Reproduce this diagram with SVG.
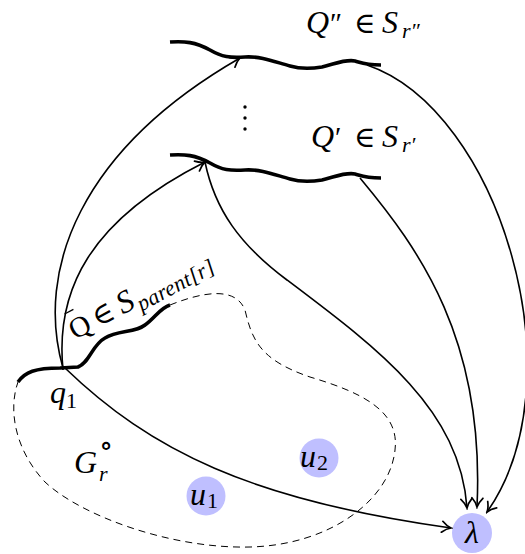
<svg xmlns="http://www.w3.org/2000/svg" width="525" height="554" viewBox="0 0 525 554">
<style>
.m{font-family:"Liberation Serif",serif;font-style:italic;font-size:32px;fill:#000}
.u{font-family:"Liberation Serif","DejaVu Serif",serif;font-size:29px;fill:#000}
.s{font-size:22px}
.thin{fill:none;stroke:#000;stroke-width:1.6}
.thick{fill:none;stroke:#000;stroke-width:3.6;stroke-linecap:butt}
.dash{fill:none;stroke:#000;stroke-width:1;stroke-dasharray:7 5}
.node{fill:#bfbfff}
</style>
<defs>
<marker id="arr" viewBox="-11 -7 13 14" refX="0" refY="0" markerWidth="13" markerHeight="14" markerUnits="userSpaceOnUse" orient="auto">
<path d="M-9,-5.5 C-5.5,-2.2 -2.2,-0.6 0,0 C-2.2,0.6 -5.5,2.2 -9,5.5" fill="none" stroke="#000" stroke-width="1.7" stroke-linecap="round"/>
</marker>
</defs>
<rect width="525" height="554" fill="#fff"/>

<g id="region">
<path class="dash" d="M170,305 C200,293 235,285 245,310 C252,340 260,360 310,377 C360,392 400,410 395,450 C390,500 330,545 250,547 C170,549 80,515 45,482 C15,450 8,410 18,382"/>
<text class="m" x="74" y="473">G</text>
<text class="u" x="99" y="455" font-size="18">∘</text>
<text class="m s" x="99" y="481">r</text>
</g>

<g id="Qbar">
<path class="thick" d="M18,382 C25,372 35,368 60,368 L78,367 C90,362 92,345 105,338 C118,330 135,333 145,325 C155,318 160,308 170,305"/>
<g transform="translate(75,340) rotate(-28)">
<text class="u" x="0" y="0" font-size="31">Q</text>
<rect x="3" y="-28.5" width="10" height="1.3" fill="#000"/>
<text class="u" x="26" y="0">∈</text>
<text class="m" x="54" y="0">S</text>
<text class="m s" x="72" y="6" textLength="85" lengthAdjust="spacing">parent[r]</text>
</g>
</g>

<g id="q1">
<text class="m" x="50" y="403">q</text>
<text class="u s" x="66" y="408">1</text>
</g>

<g id="Qpp">
<path class="thick" d="M170,42 C185,41 195,42 210,50 C222,57 230,58 245,57 C262,56 275,62 290,66 C300,69 310,69 322,67 C335,64 345,59 355,61 C362,63 365,65 381,65"/>
<text class="m" x="306" y="33">Q</text>
<text class="u" x="330" y="33">″</text>
<text class="u" x="354" y="33">∈</text>
<text class="m" x="382" y="33">S</text>
<text class="m s" x="402" y="38">r″</text>
</g>

<g id="dots">
<circle cx="245" cy="107" r="1.7"/>
<circle cx="245" cy="118" r="1.7"/>
<circle cx="245" cy="129" r="1.7"/>
</g>

<g id="Qp">
<path class="thick" d="M170,155 C185,154 195,155 210,163 C222,170 230,171 245,170 C262,169 275,175 290,179 C300,182 310,182 322,180 C335,177 345,172 355,174 C362,176 365,178 381,178"/>
<text class="m" x="311" y="147">Q</text>
<text class="u" x="335" y="147">′</text>
<text class="u" x="354" y="147">∈</text>
<text class="m" x="382" y="147">S</text>
<text class="m s" x="402" y="152">r′</text>
</g>

<g id="u1">
<circle class="node" cx="206" cy="496" r="19.5"/>
<text class="m" x="190" y="505">u</text>
<text class="u s" x="207" y="508">1</text>
</g>
<g id="u2">
<circle class="node" cx="319" cy="458" r="19.5"/>
<text class="m" x="300" y="467">u</text>
<text class="u s" x="317" y="470">2</text>
</g>
<g id="lambda">
<circle class="node" cx="472" cy="533" r="20"/>
<text class="m" x="472" y="543" text-anchor="middle">λ</text>
</g>

<g id="connectors">
<path class="thin" marker-end="url(#arr)" d="M63,368 C35,270 80,150 240,58"/>
<path class="thin" marker-end="url(#arr)" d="M63,370 C55,290 90,220 205,162"/>
<path class="thin" marker-end="url(#arr)" d="M65,368 C150,450 250,500 451,528"/>
<path class="thin" marker-end="url(#arr)" d="M205,162 C215,210 240,245 287,280 C380,350 460,410 467,508"/>
<path class="thin" marker-end="url(#arr)" d="M360,178 C420,250 485,340 477,507"/>
<path class="thin" marker-end="url(#arr)" d="M367,65 C500,110 580,380 487,512"/>
</g>
</svg>
